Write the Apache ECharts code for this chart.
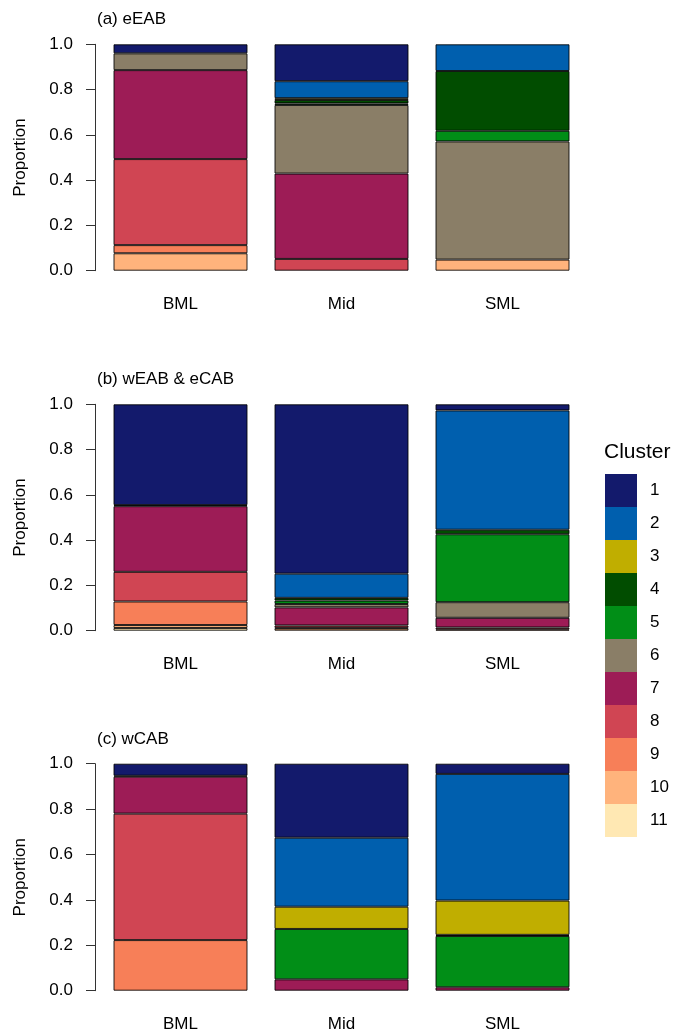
<!DOCTYPE html>
<html>
<head>
<meta charset="utf-8">
<script src="https://cdn.jsdelivr.net/npm/echarts@6/dist/echarts.min.js"></script>
<style>
html,body{margin:0;padding:0;background:#fff;}
#chart{width:673px;height:1033px;}
</style>
</head>
<body>
<div id="chart"></div>
<script>
// Categories and clusters
var sites = ['BML', 'Mid', 'SML'];
var clusters = ['1','2','3','4','5','6','7','8','9','10','11'];
var clusterColors = ['#131A6C','#005FAE','#C0AE00','#014D00','#018E17','#8A7E67','#9D1C56','#D04553','#F77F58','#FFB37C','#FFE8B3'];
var panelTitles = ['(a) eEAB', '(b) wEAB & eCAB', '(c) wCAB'];
var yTicks = [0, 0.2, 0.4, 0.6, 0.8, 1.0];

// Proportions per cluster 1..11, for each panel and site
var eEAB_BML = [0.040, 0, 0, 0, 0, 0.074, 0.393, 0.380, 0.036, 0.077, 0];
var eEAB_Mid = [0.163, 0.075, 0.008, 0.015, 0.007, 0.303, 0.377, 0.052, 0, 0, 0];
var eEAB_SML = [0, 0.118, 0, 0.264, 0.047, 0.522, 0, 0, 0, 0.049, 0];

var wEABeCAB_BML = [0.445, 0, 0, 0.005, 0, 0, 0.290, 0.131, 0.104, 0.013, 0.012];
var wEABeCAB_Mid = [0.748, 0.107, 0, 0.012, 0.015, 0.015, 0.080, 0.010, 0.003, 0.010, 0];
var wEABeCAB_SML = [0.027, 0.527, 0, 0.020, 0.300, 0.069, 0.043, 0.008, 0.006, 0, 0];

var wCAB_BML = [0.053, 0, 0, 0.004, 0, 0, 0.163, 0.557, 0.223, 0, 0];
var wCAB_Mid = [0.326, 0.304, 0.098, 0, 0.222, 0, 0.050, 0, 0, 0, 0];
var wCAB_SML = [0.045, 0.558, 0.151, 0.005, 0.226, 0, 0.015, 0, 0, 0, 0];

var panels = [
  [eEAB_BML, eEAB_Mid, eEAB_SML],
  [wEABeCAB_BML, wEABeCAB_Mid, wEABeCAB_SML],
  [wCAB_BML, wCAB_Mid, wCAB_SML]
];

var FONT = '"Liberation Sans", Arial, sans-serif';
var FS = 17;
var gridTops = [44.3, 404.3, 763.7];
var gridHeights = [226.4, 226.4, 227];

var grids = [], xAxes = [], yAxes = [], series = [], titles = [];
panels.forEach(function (panel, p) {
  grids.push({left: 100, width: 483, top: gridTops[p], height: gridHeights[p], containLabel: false});
  xAxes.push({
    type: 'category', gridIndex: p, data: sites,
    axisLine: {show: false}, axisTick: {show: false},
    axisLabel: {margin: 25, fontSize: FS, color: '#000', fontFamily: FONT}
  });
  yAxes.push({
    type: 'value', gridIndex: p, min: 0, max: 1, interval: 0.2, offset: 5,
    name: 'Proportion', nameLocation: 'middle', nameGap: 66,
    nameTextStyle: {fontSize: FS, color: '#000', fontFamily: FONT},
    axisLine: {show: true, lineStyle: {color: '#333', width: 1}},
    axisTick: {show: true, length: 9, lineStyle: {color: '#333'}},
    axisLabel: {margin: 22, fontSize: FS, color: '#000', fontFamily: FONT,
      formatter: function (v) { return v.toFixed(1); }},
    splitLine: {show: false}
  });
  titles.push({
    text: panelTitles[p], left: 97, top: gridTops[p] - 33, padding: 0,
    textStyle: {fontSize: FS, fontWeight: 'normal', color: '#000', fontFamily: FONT}
  });
  // stack from cluster 11 (bottom) to cluster 1 (top)
  for (var k = clusters.length - 1; k >= 0; k--) {
    var vals = panel.map(function (siteArr) { var v = siteArr[k]; return v > 0 ? v : '-'; });
    series.push({
      name: clusters[k], type: 'bar', stack: 'p' + p,
      xAxisIndex: p, yAxisIndex: p, barWidth: 134,
      data: vals,
      itemStyle: {color: clusterColors[k], borderColor: 'rgba(0,0,0,0.85)', borderWidth: 1},
      emphasis: {disabled: true}
    });
  }
});

titles.push({
  text: 'Cluster', left: 604, top: 442, padding: 0,
  textStyle: {fontSize: 21, fontWeight: 'normal', color: '#000', fontFamily: FONT}
});

var chart = echarts.init(document.getElementById('chart'), null, {renderer: 'canvas'});
chart.setOption({
  animation: false,
  backgroundColor: '#fff',
  title: titles,
  grid: grids,
  xAxis: xAxes,
  yAxis: yAxes,
  legend: {
    data: clusters, orient: 'vertical', left: 605, top: 474, padding: 0,
    itemWidth: 32, itemHeight: 33, itemGap: 0, icon: 'rect',
    itemStyle: {borderWidth: 0},
    textStyle: {fontSize: FS, color: '#000', fontFamily: FONT, padding: [0, 0, 0, 8]},
    selectedMode: false
  },
  series: series
});
</script>
</body>
</html>
